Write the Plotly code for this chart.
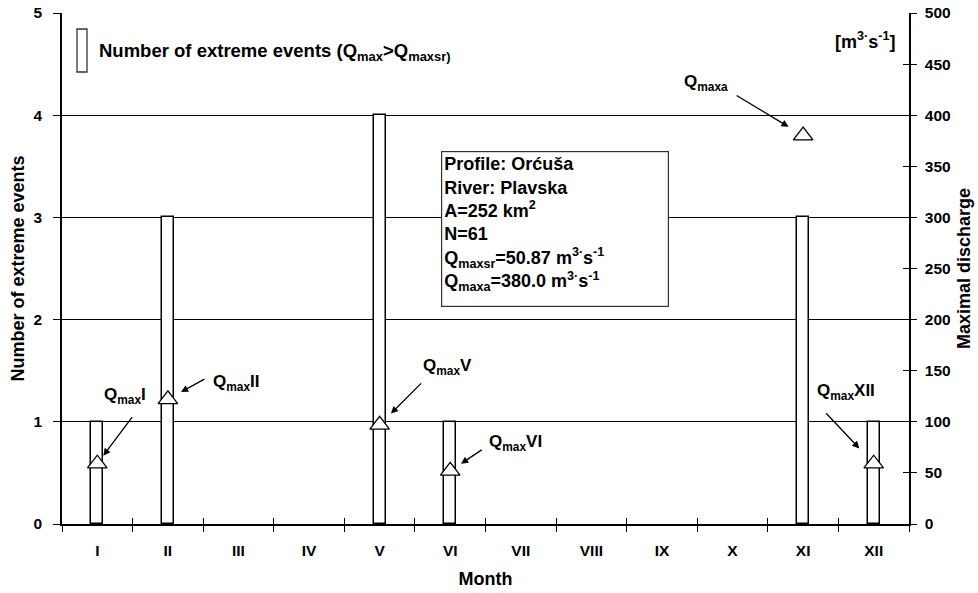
import plotly.graph_objects as go

# ---- data ----
months = ["I", "II", "III", "IV", "V", "VI", "VII", "VIII", "IX", "X", "XI", "XII"]
events = [1, 3, 0, 0, 4, 1, 0, 0, 0, 0, 3, 1]
qmax_months = ["I", "II", "V", "VI", "XI", "XII"]
qmax_values = [59, 122, 97, 52, 380, 59]
qmax_labels = ["Q<sub>max</sub>I", "Q<sub>max</sub>II", "Q<sub>max</sub>V",
               "Q<sub>max</sub>VI", "Q<sub>maxa</sub>", "Q<sub>max</sub>XII"]
left_ticks = [0, 1, 2, 3, 4, 5]
right_ticks = [0, 50, 100, 150, 200, 250, 300, 350, 400, 450, 500]
info_lines = ["Profile: Orćuša", "River: Plavska", "A=252 km<sup>2</sup>", "N=61",
              "Q<sub>maxsr</sub>=50.87 m<sup>3·</sup>s<sup>-1</sup>",
              "Q<sub>maxa</sub>=380.0 m<sup>3·</sup>s<sup>-1</sup>"]
legend_text = "Number of extreme events (Q<sub>max</sub>&gt;Q<sub>maxsr)</sub>"
unit_text = "[m<sup>3·</sup>s<sup>-1</sup>]"

# ---- styling (pixel offsets for the callouts) ----
label_off = [(28, -68), (69, -16), (68, -58), (65, -28), (-97, -53), (-28, -72)]
tail_off = [(36, -48), (38, -21), (43, -43), (33, -22), (-68, -41), (-49, -52)]
standoffs = [10, 15, 16, 13, 17, 21]

FONT = "Liberation Sans, Arial, sans-serif"
BLACK = "#000000"

bar_line_widths = [1.5 if v > 0 else 0 for v in events]

fig = go.Figure()
fig.add_trace(go.Bar(x=months, y=events, width=0.17,
                     marker=dict(color="white", line=dict(color=BLACK, width=bar_line_widths)),
                     showlegend=False, name="Number of extreme events"))
fig.add_trace(go.Scatter(x=qmax_months, y=qmax_values, yaxis="y2", mode="markers",
                         marker=dict(symbol="triangle-up", size=17, color="white",
                                     line=dict(color=BLACK, width=1.3)),
                         showlegend=False, name="Qmax"))
# helper invisible traces so the overlay axes (inside tick marks) get drawn
fig.add_trace(go.Scatter(x=months, y=events, xaxis="x2", yaxis="y", mode="markers",
                         marker=dict(opacity=0), showlegend=False, hoverinfo="skip"))
fig.add_trace(go.Scatter(x=qmax_months, y=qmax_values, yaxis="y3", mode="markers",
                         marker=dict(opacity=0), showlegend=False, hoverinfo="skip"))

tickfont = dict(family=FONT, size=15.5, color=BLACK, weight="bold")
titlefont = dict(family=FONT, size=18, color=BLACK, weight="bold")

fig.update_layout(
    width=978, height=593,
    margin=dict(l=62, r=69, t=13, b=69),
    paper_bgcolor="white", plot_bgcolor="white",
    font=dict(family=FONT, color=BLACK, weight="bold"),
    bargap=0,
    xaxis=dict(type="category", categoryorder="array", categoryarray=months,
               range=[-0.5, 11.5], ticks="outside", tickson="boundaries", ticklen=6,
               tickwidth=1, tickcolor=BLACK, showline=True, linecolor=BLACK, linewidth=1.5,
               showgrid=False, tickfont=tickfont, ticklabelstandoff=12,
               title=dict(text="Month", font=titlefont, standoff=14), automargin=False),
    xaxis2=dict(type="category", categoryorder="array", categoryarray=months,
                overlaying="x", matches="x", range=[-0.5, 11.5], ticks="inside",
                tickson="boundaries", ticklen=6, tickwidth=1, tickcolor=BLACK,
                showticklabels=False, showgrid=False, showline=False, anchor="y"),
    yaxis=dict(range=[0, 5], tickvals=left_ticks, ticks="outside", ticklen=7,
               tickwidth=1, tickcolor=BLACK, showline=True, linecolor=BLACK, linewidth=1.5,
               showgrid=True, gridcolor=BLACK, gridwidth=1, zeroline=False,
               tickfont=tickfont, ticklabelstandoff=8,
               title=dict(text="Number of extreme events", font=titlefont, standoff=4),
               automargin=False),
    yaxis2=dict(range=[0, 500], tickvals=right_ticks, overlaying="y", side="right",
                anchor="x", ticks="outside", ticklen=6, tickwidth=1, tickcolor=BLACK,
                showline=True, linecolor=BLACK, linewidth=1.5, showgrid=False,
                zeroline=False, tickfont=tickfont, ticklabelstandoff=5,
                title=dict(text="Maximal discharge", font=titlefont, standoff=8),
                automargin=False),
    yaxis3=dict(range=[0, 500], tickvals=right_ticks, overlaying="y", side="right",
                anchor="x", ticks="inside", ticklen=6, tickwidth=1, tickcolor=BLACK,
                showticklabels=False, showgrid=False, showline=False, zeroline=False),
)

# callouts: arrows and labels
for i, (m, v, lab) in enumerate(zip(qmax_months, qmax_values, qmax_labels)):
    tx, ty = tail_off[i]
    fig.add_annotation(x=m, y=v, xref="x", yref="y2", text="", showarrow=True,
                       ax=tx, ay=ty, arrowhead=2, arrowsize=1.1, arrowwidth=1.3,
                       arrowcolor=BLACK, standoff=standoffs[i])
    lx, ly = label_off[i]
    fig.add_annotation(x=m, y=v, xref="x", yref="y2", text=lab, showarrow=False,
                       xshift=lx, yshift=-ly,
                       font=dict(family=FONT, size=17, color=BLACK, weight="bold"))

# info box
fig.add_annotation(x=0.4475, y=0.730, xref="paper", yref="paper", xanchor="left",
                   yanchor="top", align="left", valign="top", showarrow=False,
                   text="<br>".join(info_lines), bgcolor="white", bordercolor="#333333",
                   borderwidth=1.2, borderpad=2, width=222, height=150,
                   font=dict(family=FONT, size=18, color=BLACK, weight="bold"))

# legend (manual)
fig.add_shape(type="rect", xref="paper", yref="paper", x0=0.0177, x1=0.0295,
              y0=0.8845, y1=0.9687, line=dict(color="#333333", width=1.3),
              fillcolor="white")
fig.add_annotation(x=0.0413, y=0.9237, xref="paper", yref="paper", xanchor="left",
                   yanchor="middle", showarrow=False, text=legend_text,
                   font=dict(family=FONT, size=18.5, color=BLACK, weight="bold"))
# unit label
fig.add_annotation(x=0.9858, y=0.947, xref="paper", yref="paper", xanchor="right",
                   yanchor="middle", showarrow=False, text=unit_text,
                   font=dict(family=FONT, size=18, color=BLACK, weight="bold"))

fig.write_html("out.html")
